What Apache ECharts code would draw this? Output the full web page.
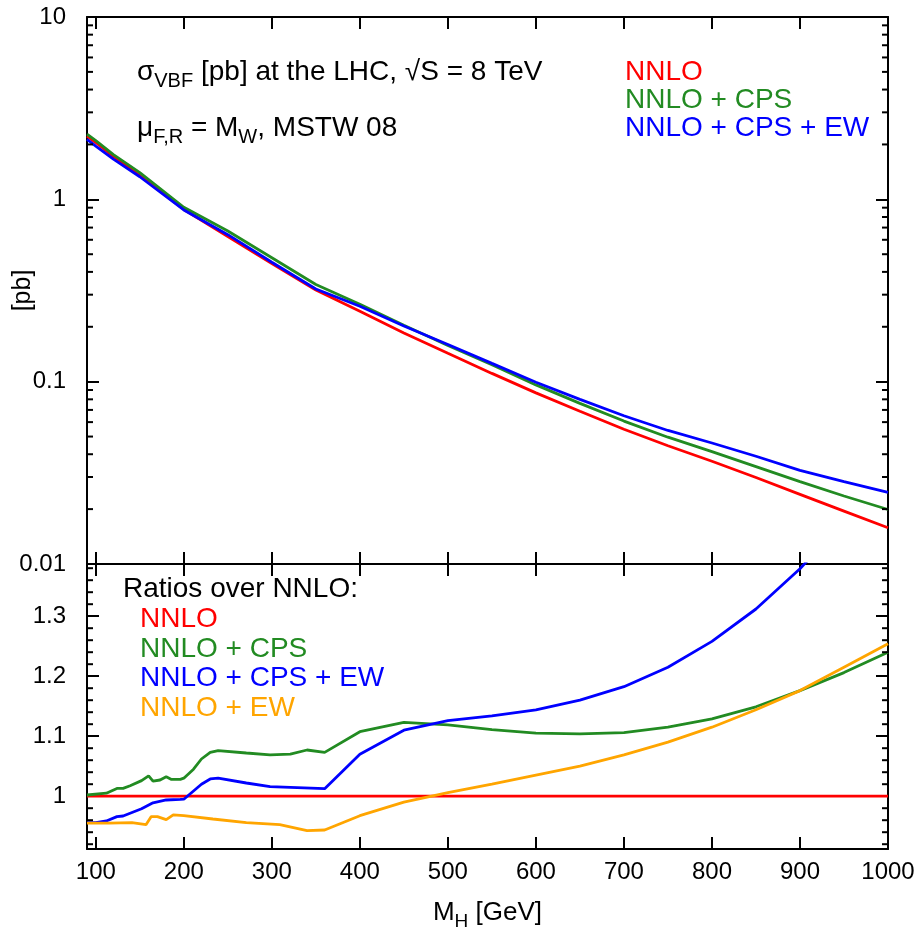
<!DOCTYPE html>
<html>
<head>
<meta charset="utf-8">
<script src="https://cdn.jsdelivr.net/npm/echarts@6/dist/echarts.min.js"></script>
<style>
html,body{margin:0;padding:0;background:#fff;}
#chart{width:923px;height:935px;}
</style>
</head>
<body>
<div id="chart"></div>
<script>
// ---------------- data ----------------
const xRange = [90, 1000];

// upper panel: cross sections [pb]
const massTop   = [90, 100, 120, 150, 200, 250, 300, 350, 400, 450, 500, 550, 600, 650, 700, 750, 800, 850, 900, 950, 1000];
const nnlo      = [2.22, 2.05, 1.72, 1.35, 0.88, 0.625, 0.445, 0.318, 0.243, 0.185, 0.143, 0.111, 0.0868, 0.0688, 0.0548, 0.0445, 0.0366, 0.0298, 0.0241, 0.0195, 0.0158];
const nnloCps   = [2.28, 2.10, 1.76, 1.40, 0.905, 0.67, 0.478, 0.341, 0.266, 0.204, 0.158, 0.124, 0.0960, 0.0760, 0.0608, 0.0496, 0.0413, 0.0342, 0.0283, 0.0236, 0.0199];
const nnloCpsEw = [2.13, 1.96, 1.66, 1.33, 0.875, 0.64, 0.452, 0.322, 0.259, 0.202, 0.160, 0.126, 0.0993, 0.0800, 0.0650, 0.0540, 0.0461, 0.0390, 0.0326, 0.0283, 0.0247];

// lower panel: ratios over NNLO
const ratioNnloM = [90, 1000];
const ratioNnlo  = [1, 1];
const ratioCpsM  = [90, 112, 124, 131, 139, 152, 160, 165, 173, 180, 186, 196, 200, 211, 220, 230, 239, 271, 298, 321, 340, 360, 400, 450, 500, 550, 600, 650, 700, 750, 800, 850, 900, 950, 1000];
const ratioCps   = [1.002, 1.005, 1.013, 1.013, 1.0175, 1.026, 1.034, 1.025, 1.027, 1.0325, 1.028, 1.028, 1.030, 1.045, 1.062, 1.073, 1.076, 1.072, 1.069, 1.070, 1.077, 1.073, 1.1075, 1.123, 1.119, 1.111, 1.105, 1.104, 1.106, 1.115, 1.129, 1.149, 1.176, 1.206, 1.240];
const ratioCpsEwM = [90, 100, 112, 124, 131, 152, 165, 180, 196, 200, 220, 230, 239, 271, 298, 321, 360, 400, 450, 500, 550, 600, 650, 700, 750, 800, 850, 900, 950, 1000];
const ratioCpsEw  = [0.956, 0.956, 0.9587, 0.966, 0.967, 0.979, 0.989, 0.9937, 0.9947, 0.995, 1.020, 1.0287, 1.030, 1.022, 1.016, 1.0147, 1.0125, 1.070, 1.110, 1.126, 1.134, 1.144, 1.160, 1.1825, 1.215, 1.258, 1.312, 1.379, 1.46, 1.56];
const ratioEwM = [90, 115, 141, 157, 163, 170, 180, 188, 200, 233, 271, 309, 340, 360, 400, 450, 500, 550, 600, 650, 700, 750, 800, 850, 900, 950, 1000];
const ratioEw  = [0.955, 0.955, 0.956, 0.9525, 0.966, 0.966, 0.961, 0.969, 0.9675, 0.962, 0.956, 0.9525, 0.9425, 0.9437, 0.9675, 0.990, 1.006, 1.020, 1.035, 1.050, 1.069, 1.090, 1.115, 1.144, 1.176, 1.215, 1.254];

// axis ranges and minor tick values
const logRange = [0.01, 10];
const ratioRange = [0.912, 1.387];
const logMinorTicks = [0.02,0.03,0.04,0.05,0.06,0.07,0.08,0.09, 0.2,0.3,0.4,0.5,0.6,0.7,0.8,0.9, 2,3,4,5,6,7,8,9];
const ratioMinorTicks = [0.92,0.94,0.96,0.98, 1.02,1.04,1.06,1.08, 1.12,1.14,1.16,1.18, 1.22,1.24,1.26,1.28, 1.32,1.34,1.36,1.38];

// ---------------- styling ----------------
const FONT = 'Liberation Sans';
const C_RED = '#ff0000', C_GREEN = '#228b22', C_BLUE = '#0000ff', C_ORANGE = '#ffa500';
const LW = 2.8;
const TXT = 28;   // annotation / legend size
const TICK = 24;  // tick label size

const pairs = (xs, ys) => xs.map((x, i) => [x, ys[i]]);

function mkX(grid, pos, labels) {
  return {
    type: 'value', gridIndex: grid, position: pos, min: xRange[0], max: xRange[1], splitNumber: 9,
    axisLine: { show: true, onZero: false, lineStyle: { color: '#000', width: 2 } },
    axisTick: { show: true, inside: true, length: 12, lineStyle: { color: '#000', width: 2 } },
    axisLabel: { show: labels, showMinLabel: false, margin: 11, color: '#000', fontFamily: FONT, fontSize: TICK,
                 formatter: v => String(v) },
    splitLine: { show: false }
  };
}

function minorTickSeries(xi, yi, values) {
  return {
    type: 'custom', xAxisIndex: xi, yAxisIndex: yi, silent: true, clip: false, z: 5,
    data: values.map(v => [xRange[0], v]),
    encode: { x: 0, y: 1 },
    renderItem: function (params, api) {
      const p = api.coord([api.value(0), api.value(1)]);
      const cs = params.coordSys;
      const st = { stroke: '#000', lineWidth: 2 };
      return {
        type: 'group',
        children: [
          { type: 'line', shape: { x1: cs.x, y1: p[1], x2: cs.x + 6, y2: p[1] }, style: st },
          { type: 'line', shape: { x1: cs.x + cs.width - 6, y1: p[1], x2: cs.x + cs.width, y2: p[1] }, style: st }
        ]
      };
    }
  };
}

function lineSeries(xi, yi, data, color, z) {
  return {
    type: 'line', xAxisIndex: xi, yAxisIndex: yi, data: data, showSymbol: false, symbol: 'none',
    lineStyle: { color: color, width: LW }, itemStyle: { color: color }, z: z || 2, clip: true
  };
}

// rich styles: main text and subscript (subscript shifted down by padding/2)
function richFor(size, subSize, shift) {
  return {
    m: { fontFamily: FONT, fontSize: size, lineHeight: 32, color: '#000' },
    s: { fontFamily: FONT, fontSize: subSize, lineHeight: 32, color: '#000', padding: [shift * 2, 0, 0, 0] }
  };
}

function txt(x, y, text, color, size) {
  return {
    type: 'text', x: x, y: y, silent: true,
    style: { text: text, fill: color, fontFamily: FONT, fontSize: size || TXT, textAlign: 'left', textVerticalAlign: 'middle' }
  };
}

const chart = echarts.init(document.getElementById('chart'), null, { renderer: 'canvas' });

const option = {
  animation: false,
  backgroundColor: '#ffffff',
  grid: [
    { left: 87, right: 35, top: 17, height: 547, outerBoundsMode: 'none', containLabel: false },
    { left: 87, right: 35, top: 564, height: 285, outerBoundsMode: 'none', containLabel: false }
  ],
  xAxis: [
    mkX(0, 'bottom', false),
    mkX(0, 'top', false),
    mkX(1, 'top', false),
    Object.assign(mkX(1, 'bottom', true), {
      name: '{m|M}{s|H}{m| [GeV]}', nameLocation: 'middle', nameGap: 48, nameMoveOverlap: false,
      nameTextStyle: { fontFamily: FONT, fontSize: 26, color: '#000', rich: richFor(26, 19, 9) }
    })
  ],
  yAxis: [
    {
      type: 'log', logBase: 10, gridIndex: 0, position: 'left', min: logRange[0], max: logRange[1],
      name: '[pb]', nameLocation: 'middle', nameGap: 51, nameRotate: 90, nameMoveOverlap: false,
      nameTextStyle: { fontFamily: FONT, fontSize: 25, color: '#000' },
      axisLine: { show: true, lineStyle: { color: '#000', width: 2 } },
      axisTick: { show: true, inside: true, length: 12, lineStyle: { color: '#000', width: 2 } },
      axisLabel: { margin: 21, color: '#000', fontFamily: FONT, fontSize: TICK, formatter: v => String(+(+v).toPrecision(3)) },
      splitLine: { show: false }, minorTick: { show: false }
    },
    {
      type: 'log', logBase: 10, gridIndex: 0, position: 'right', min: logRange[0], max: logRange[1],
      axisLine: { show: true, lineStyle: { color: '#000', width: 2 } },
      axisTick: { show: true, inside: true, length: 12, lineStyle: { color: '#000', width: 2 } },
      axisLabel: { show: false }, splitLine: { show: false }
    },
    {
      type: 'value', gridIndex: 1, position: 'left', min: ratioRange[0], max: ratioRange[1], splitNumber: 5,
      axisLine: { show: true, onZero: false, lineStyle: { color: '#000', width: 2 } },
      axisTick: { show: true, inside: true, length: 12, lineStyle: { color: '#000', width: 2 } },
      axisLabel: { margin: 21, showMinLabel: false, showMaxLabel: false, color: '#000', fontFamily: FONT, fontSize: TICK,
                   formatter: v => String(+(+v).toFixed(2)) },
      splitLine: { show: false }
    },
    {
      type: 'value', gridIndex: 1, position: 'right', min: ratioRange[0], max: ratioRange[1], splitNumber: 5,
      axisLine: { show: true, onZero: false, lineStyle: { color: '#000', width: 2 } },
      axisTick: { show: true, inside: true, length: 12, lineStyle: { color: '#000', width: 2 } },
      axisLabel: { show: false }, splitLine: { show: false }
    }
  ],
  series: [
    lineSeries(0, 0, pairs(massTop, nnlo), C_RED, 2),
    lineSeries(0, 0, pairs(massTop, nnloCps), C_GREEN, 3),
    lineSeries(0, 0, pairs(massTop, nnloCpsEw), C_BLUE, 4),
    lineSeries(3, 2, pairs(ratioNnloM, ratioNnlo), C_RED, 2),
    lineSeries(3, 2, pairs(ratioCpsM, ratioCps), C_GREEN, 3),
    lineSeries(3, 2, pairs(ratioCpsEwM, ratioCpsEw), C_BLUE, 4),
    lineSeries(3, 2, pairs(ratioEwM, ratioEw), C_ORANGE, 5),
    minorTickSeries(0, 0, logMinorTicks),
    minorTickSeries(3, 2, ratioMinorTicks)
  ],
  graphic: [
    {
      type: 'text', x: 137, y: 72, silent: true,
      style: { text: '{m|σ}{s|VBF}{m| [pb] at the LHC, √S = 8 TeV}', rich: richFor(TXT, 20, 9.5), fontFamily: FONT, fontSize: TXT, fill: '#000', textVerticalAlign: 'middle' }
    },
    {
      type: 'text', x: 137, y: 128, silent: true,
      style: { text: '{m|μ}{s|F,R}{m| = M}{s|W}{m|, MSTW 08}', rich: richFor(TXT, 20, 9.5), fontFamily: FONT, fontSize: TXT, fill: '#000', textVerticalAlign: 'middle' }
    },
    txt(625, 72, 'NNLO', C_RED),
    txt(625, 100, 'NNLO + CPS', C_GREEN),
    txt(625, 128, 'NNLO + CPS + EW', C_BLUE),
    txt(123, 589, 'Ratios over NNLO:', '#000'),
    txt(140, 619, 'NNLO', C_RED),
    txt(140, 649, 'NNLO + CPS', C_GREEN),
    txt(140, 678, 'NNLO + CPS + EW', C_BLUE),
    txt(140, 708, 'NNLO + EW', C_ORANGE)
  ]
};

chart.setOption(option);
</script>
</body>
</html>
